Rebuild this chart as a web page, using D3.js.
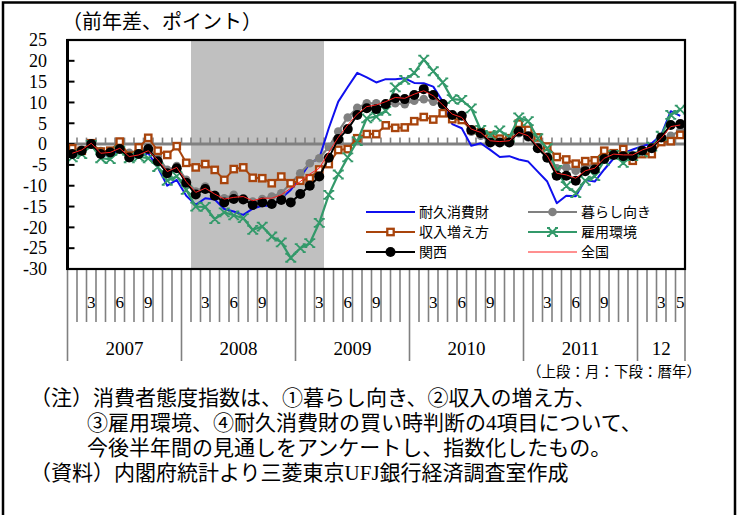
<!DOCTYPE html>
<html>
<head>
<meta charset="utf-8">
<script src="https://cdn.jsdelivr.net/npm/d3@7/dist/d3.min.js"></script>
<style>
  body { margin: 0; background: #fff; }
  svg { display: block; }
</style>
</head>
<body>
<svg id="chart" width="742" height="515"></svg>
<script>
// 消費者態度指数（前年差）— 関西と全国、項目別
const firstMonth = new Date(2007, 0, 1);
const lastMonth = new Date(2012, 4, 1);
const recessionStart = new Date(2008, 1, 1);
const recessionEnd = new Date(2009, 2, 1);

const yTicks = [25, 20, 15, 10, 5, 0, -5, -10, -15, -20, -25, -30];
const yearLabels = ["2007", "2008", "2009", "2010", "2011", "12"];
const quarterMonths = [3, 6, 9];
const lastYearMonths = [3, 5];

// 耐久消費財
const durable = [
  -2.8, -2.0, -0.2, -2.8, -2.6, -1.4, -3.4, -3.0, -2.2, -5.6, -10.0, -8.6,
  -12.4, -14.6, -13.0, -13.3, -15.6, -16.2, -17.0, -15.5, -14.8, -14.8, -13.0, -11.0,
  -8.1, -4.6, -3.4, 3.8, 10.2, 13.7, 17.1, 16.0, 14.8, 15.6, 15.6, 15.8,
  14.7, 14.6, 13.8, 10.2, 4.8, 3.8, -0.4, 0.2, -1.4, -3.1, -2.9, -3.7,
  -4.2, -6.6, -9.0, -14.2, -12.4, -12.5, -8.6, -9.0, -6.1, -3.4, -2.2, -1.3,
  -0.5, 0.2, 2.2, 7.9, 6.8
];
// 暮らし向き
const livelihood = [
  -2.0, -1.4, 0.2, -1.7, -1.8, -1.0, -2.1, -2.0, -1.0, -3.0, -6.2, -5.3,
  -8.6, -11.4, -10.2, -12.2, -13.0, -12.2, -13.0, -13.8, -13.2, -12.6, -11.8, -9.4,
  -7.0, -4.6, -3.4, -0.7, 3.0, 6.4, 8.7, 9.8, 9.8, 9.6, 9.8, 9.6,
  10.4, 10.8, 10.2, 9.4, 7.0, 6.6, 3.0, 2.0, 0.8, 0.6, 0.8, 2.6,
  1.6, -0.8, -3.0, -5.8, -5.6, -6.4, -5.4, -5.0, -3.0, -2.2, -2.6, -2.8,
  -1.4, -0.8, 1.0, 2.0, 3.2
];
// 収入の増え方
const income = [
  -1.0, -1.6, 0.2, -1.8, -1.6, 0.6, -2.8, -0.8, 1.5, -1.6, -2.6, -0.5,
  -4.5, -5.6, -4.8, -6.2, -8.6, -6.0, -5.6, -8.1, -8.2, -9.4, -7.8, -9.4,
  -8.8, -8.2, -6.1, -4.8, -1.4, -1.2, 1.4, 2.4, 2.4, 4.5, 3.9, 4.0,
  5.5, 6.5, 5.9, 7.4, 6.0, 5.8, 3.4, 2.8, 2.0, 1.3, 1.4, 4.9,
  3.4, 1.6, -0.6, -3.1, -3.7, -4.7, -4.1, -3.9, -1.6, -2.2, -1.2, -4.0,
  -2.4, -2.4, 0.5, 0.7, 2.2
];
// 雇用環境
const employment = [
  -3.2, -2.4, -0.2, -3.4, -3.6, -1.6, -3.4, -3.0, -3.4, -5.5, -8.8, -7.7,
  -11.0, -15.0, -15.1, -18.0, -16.4, -17.1, -17.8, -20.6, -19.8, -22.2, -23.6, -27.3,
  -25.0, -23.8, -18.9, -12.2, -7.3, -3.2, 0.7, 6.2, 6.6, 8.0, 13.6, 15.4,
  17.1, 20.3, 17.5, 14.8, 10.8, 10.6, 8.6, 3.4, 2.2, 3.3, 1.6, 6.4,
  5.5, 1.4, -1.0, -6.2, -10.1, -11.8, -8.8, -7.7, -4.0, -2.6, -4.5, -2.9,
  -2.0, -0.6, 2.0, 7.0, 8.3
];
// 関西
const kansai = [
  -2.4, -1.6, 0.0, -2.4, -2.0, -1.2, -3.2, -2.4, -1.2, -4.1, -7.0, -5.8,
  -9.3, -12.1, -10.8, -12.4, -14.0, -13.2, -13.3, -14.6, -14.0, -14.4, -13.4, -14.0,
  -12.0, -10.0, -7.8, -3.3, 1.2, 3.6, 7.0, 8.6, 8.4, 9.6, 11.0, 10.8,
  11.8, 13.2, 11.8, 9.6, 7.0, 6.8, 3.4, 2.6, 0.4, 0.4, 0.4, 3.0,
  1.9, -1.0, -3.3, -7.6, -7.6, -8.8, -6.5, -6.1, -3.6, -2.6, -2.9, -2.9,
  -1.6, -1.0, 1.6, 4.6, 4.8
];
// 全国
const national = [
  -2.2, -1.4, 0.2, -2.2, -2.0, -1.0, -3.0, -2.6, -1.6, -3.8, -6.6, -5.6,
  -9.0, -11.6, -10.6, -12.0, -13.2, -12.8, -12.6, -13.6, -13.0, -13.0, -12.2, -10.6,
  -9.0, -7.2, -5.8, -2.0, 1.6, 4.6, 7.2, 9.0, 9.4, 10.2, 11.2, 11.0,
  12.0, 12.8, 11.6, 9.4, 7.2, 6.4, 3.6, 2.8, 0.8, 0.6, 0.8, 2.8,
  2.0, -0.6, -2.8, -7.0, -7.4, -8.2, -6.4, -5.8, -3.4, -2.4, -2.6, -2.6,
  -1.4, -0.6, 1.4, 4.2, 4.6
];

const noteLines = [
  { x: 30, text: "（注）消費者態度指数は、①暮らし向き、②収入の増え方、" },
  { x: 87, text: "③雇用環境、④耐久消費財の買い時判断の4項目について、" },
  { x: 87, text: "今後半年間の見通しをアンケートし、指数化したもの。" },
  { x: 30, text: "（資料）内閣府統計より三菱東京UFJ銀行経済調査室作成" }
];

const months = d3.timeMonth.range(firstMonth, d3.timeMonth.offset(lastMonth, 1));

const series = [
  { name: "耐久消費財", values: durable, color: "#1010ee", width: 2, marker: null },
  { name: "暮らし向き", values: livelihood, color: "#808080", width: 2.2, marker: "circle", r: 4.3 },
  { name: "収入増え方", values: income, color: "#a8440c", width: 2, marker: "square" },
  { name: "雇用環境", values: employment, color: "#33996a", width: 2.2, marker: "cross" },
  { name: "関西", values: kansai, color: "#000000", width: 2, marker: "circle", r: 5 },
  { name: "全国", values: national, color: "#ff2020", width: 1, marker: null }
];
const legendOrder = [["耐久消費財", "収入増え方", "関西"], ["暮らし向き", "雇用環境", "全国"]];

const serif = "'Liberation Serif', 'Times New Roman', serif";
const jp = "'Noto Sans CJK JP', sans-serif";
const mixed = "'Liberation Serif', 'Noto Sans CJK JP', serif";

const svg = d3.select("#chart");
const plot = { left: 67.5, right: 685, top: 40, bottom: 269 };

const x = d3.scaleBand()
  .domain(months.map(d => +d))
  .range([plot.left, plot.right])
  .paddingInner(0).paddingOuter(0);
const bw = x.bandwidth();
const cx = i => x(+months[i]) + bw / 2;

const y = d3.scaleLinear().domain([-30, 25]).range([plot.bottom, plot.top]);

// outer frame
svg.append("rect")
  .attr("x", 3).attr("y", 2.5).attr("width", 732).attr("height", 530)
  .attr("fill", "none").attr("stroke", "#000").attr("stroke-width", 2.5);

// recession shading
svg.append("rect")
  .attr("x", x(+recessionStart))
  .attr("y", plot.top)
  .attr("width", x(+recessionEnd) + bw - x(+recessionStart))
  .attr("height", plot.bottom - plot.top)
  .attr("fill", "#c0c0c0");

// zero line with month ticks
const boundaries = d3.range(months.length + 1).map(i => plot.left + i * bw);
svg.append("line")
  .attr("x1", plot.left).attr("x2", plot.right)
  .attr("y1", y(0)).attr("y2", y(0))
  .attr("stroke", "#808080").attr("stroke-width", 3);
svg.append("g").selectAll("line").data(boundaries).join("line")
  .attr("x1", d => d).attr("x2", d => d)
  .attr("y1", y(0)).attr("y2", y(0) - 6.5)
  .attr("stroke", "#808080").attr("stroke-width", 1.6);

// month / year ruler under the plot
svg.append("g").selectAll("line").data(boundaries).join("line")
  .attr("x1", d => d).attr("x2", d => d)
  .attr("y1", plot.bottom)
  .attr("y2", (d, i) => (i % 12 === 0 || i === months.length) ? 361 : 322)
  .attr("stroke", "#808080").attr("stroke-width", 1.6);

const monthTickIdx = months.map((d, i) => i).filter(i => {
  const m = months[i].getMonth() + 1;
  const last = months[i].getFullYear() === lastMonth.getFullYear();
  return last ? lastYearMonths.includes(m) : quarterMonths.includes(m);
});
svg.append("g").selectAll("text").data(monthTickIdx).join("text")
  .attr("x", i => cx(i)).attr("y", 308)
  .attr("text-anchor", "middle")
  .attr("font-family", serif).attr("font-size", 17)
  .text(i => months[i].getMonth() + 1);

const yearStarts = d3.range(yearLabels.length).map(k => k * 12);
svg.append("g").selectAll("text").data(yearLabels).join("text")
  .attr("x", (d, k) => {
    const a = plot.left + yearStarts[k] * bw;
    const b = plot.left + Math.min(yearStarts[k] + 12, months.length) * bw;
    return (a + b) / 2;
  })
  .attr("y", 355)
  .attr("text-anchor", "middle")
  .attr("font-family", serif).attr("font-size", 19)
  .text(d => d);

svg.append("text")
  .attr("x", 701).attr("y", 377)
  .attr("text-anchor", "end")
  .attr("font-family", jp).attr("font-size", 14.5)
  .text("（上段：月：下段：暦年）");

// y axis labels and inner ticks
svg.append("g").selectAll("text").data(yTicks).join("text")
  .attr("x", 47).attr("y", d => y(d)).attr("dy", "0.35em")
  .attr("text-anchor", "end")
  .attr("font-family", serif).attr("font-size", 18)
  .text(d => d);
svg.append("g").selectAll("line").data(yTicks).join("line")
  .attr("x1", plot.left).attr("x2", plot.left + 7)
  .attr("y1", d => y(d)).attr("y2", d => y(d))
  .attr("stroke", "#000").attr("stroke-width", 2);

// series
const line = d3.line().x((d, i) => cx(i)).y(d => y(d));
const crossPath = "M-4,-4L4,4M-4,4L4,-4M-5.5,-4H-2.5M2.5,-4H5.5M-5.5,4H-2.5M2.5,4H5.5";

function drawMarker(g, s, px, py) {
  if (s.marker === "circle") {
    g.append("circle").attr("cx", px).attr("cy", py).attr("r", s.r).attr("fill", s.color);
  } else if (s.marker === "square") {
    g.append("rect").attr("x", px - 3.2).attr("y", py - 3.2).attr("width", 6.4).attr("height", 6.4)
      .attr("fill", "#fff").attr("stroke", s.color).attr("stroke-width", 2.3);
  } else if (s.marker === "cross") {
    g.append("path").attr("d", crossPath).attr("transform", `translate(${px},${py})`)
      .attr("fill", "none").attr("stroke", s.color).attr("stroke-width", 1.8);
  }
}

series.forEach(s => {
  const g = svg.append("g");
  g.append("path").datum(s.values)
    .attr("d", line)
    .attr("fill", "none").attr("stroke", s.color).attr("stroke-width", s.width)
    .attr("stroke-linejoin", "round");
  if (s.marker) s.values.forEach((v, i) => drawMarker(g, s, cx(i), y(v)));
});

// plot frame
svg.append("rect")
  .attr("x", plot.left).attr("y", plot.top)
  .attr("width", plot.right - plot.left).attr("height", plot.bottom - plot.top)
  .attr("fill", "none").attr("stroke", "#000").attr("stroke-width", 2.2);
svg.append("line")
  .attr("x1", plot.left).attr("x2", plot.left).attr("y1", plot.top - 1).attr("y2", plot.bottom + 1)
  .attr("stroke", "#000").attr("stroke-width", 3);

// legend
const legendCols = [{ x0: 366, x1: 415, tx: 419 }, { x0: 528, x1: 577, tx: 581 }];
const legendRows = [212, 232, 252];
legendOrder.forEach((col, c) => {
  col.forEach((name, r) => {
    const s = series.find(d => d.name === name);
    const g = svg.append("g");
    const ly = legendRows[r];
    g.append("line")
      .attr("x1", legendCols[c].x0).attr("x2", legendCols[c].x1)
      .attr("y1", ly).attr("y2", ly)
      .attr("stroke", s.color).attr("stroke-width", s.width);
    if (s.marker) drawMarker(g, s, (legendCols[c].x0 + legendCols[c].x1) / 2, ly);
    g.append("text")
      .attr("x", legendCols[c].tx).attr("y", ly).attr("dy", "0.36em")
      .attr("font-family", jp).attr("font-size", 14)
      .text(name);
  });
});

// axis title
svg.append("text")
  .attr("x", 62).attr("y", 29)
  .attr("font-family", jp).attr("font-size", 20)
  .text("（前年差、ポイント）");

// notes
svg.append("g").selectAll("text").data(noteLines).join("text")
  .attr("x", d => d.x).attr("y", (d, i) => 405 + i * 25)
  .attr("font-family", mixed).attr("font-size", 21)
  .text(d => d.text);
</script>
</body>
</html>
